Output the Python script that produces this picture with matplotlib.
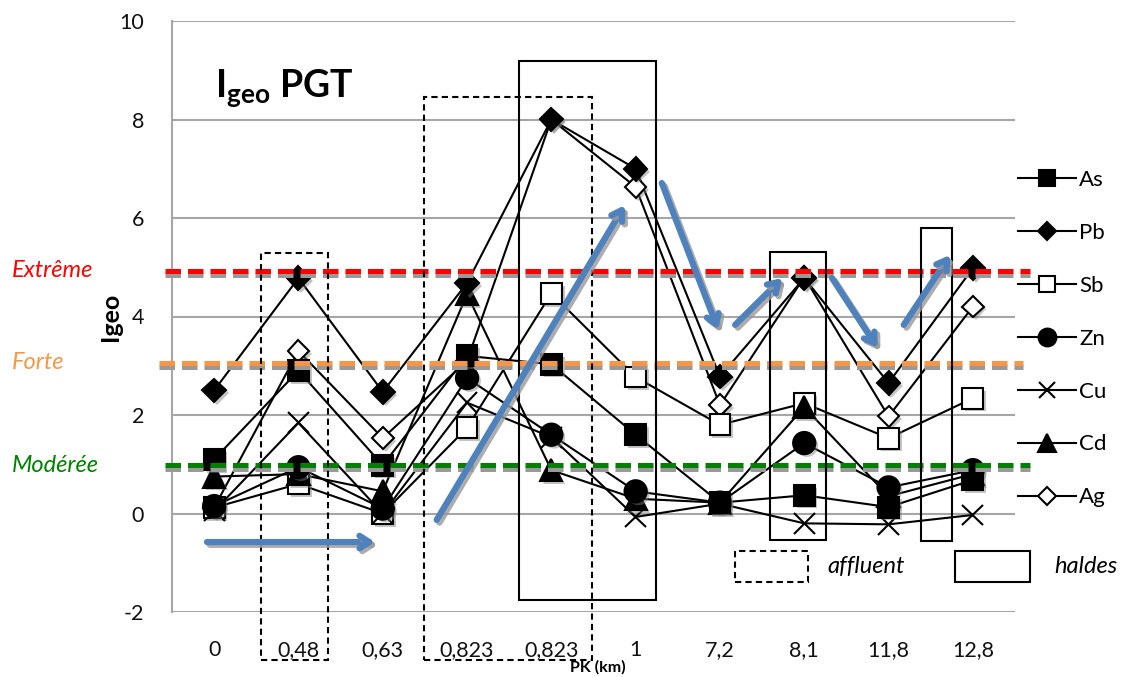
import matplotlib
matplotlib.use("Agg")
import matplotlib.pyplot as plt
import matplotlib.patheffects as pe
import matplotlib.transforms as mtransforms
from matplotlib.patches import Rectangle, FancyArrowPatch

plt.rcParams["font.family"] = ["Lato", "DejaVu Sans"]
plt.rcParams["mathtext.fontset"] = "custom"
plt.rcParams["mathtext.rm"] = "Lato"
plt.rcParams["mathtext.bf"] = "Lato:bold"
plt.rcParams["axes.unicode_minus"] = False

# PK (km) stations
categories = ["0", "0,48", "0,63", "0,823", "0,823", "1", "7,2", "8,1", "11,8", "12,8"]

# Igeo values per element
As = [1.1, 2.9, 0.98, 3.2, 3.03, 1.6, 0.22, 0.37, 0.13, 0.68]
Pb = [2.5, 4.78, 2.47, 4.68, 8.0, 7.0, 2.78, 4.78, 2.65, 4.98]
Sb = [0.12, 0.6, 0.0, 1.74, 4.47, 2.77, 1.8, 2.24, 1.53, 2.34]
Zn = [0.15, 0.94, 0.1, 2.75, 1.6, 0.45, 0.22, 1.43, 0.53, 0.88]
Cu = [0.05, 1.84, 0.0, 2.25, 1.55, -0.07, 0.2, -0.2, -0.22, -0.03]
Cd = [0.75, 0.8, 0.45, 4.45, 0.88, 0.3, 0.22, 2.16, 0.35, 0.8]
Ag = [0.12, 3.3, 1.53, 3.1, 8.0, 6.63, 2.2, 4.8, 1.97, 4.2]

# pollution class thresholds
threshold_labels = ["Extrême", "Forte", "Modérée"]
threshold_values = [4.93, 3.06, 0.98]
threshold_colors = ["#FF0000", "#F79646", "#008000"]

# name, values, marker, size, face colour, marker stacking order
series = [
    ("As", As, "s", 15, "black", 6),
    ("Pb", Pb, "D", 12, "black", 7),
    ("Sb", Sb, "s", 15, "white", 2),
    ("Zn", Zn, "o", 16, "black", 5),
    ("Cu", Cu, "x", 15, "black", 3),
    ("Cd", Cd, "^", 16, "black", 4),
    ("Ag", Ag, "D", 11, "white", 1),
]

fig = plt.figure(figsize=(11.4, 6.77), dpi=100)
ax = fig.add_axes([172 / 1140, 65 / 677, 843 / 1140, 591 / 677])

x = list(range(len(categories)))
shadow = [pe.SimplePatchShadow(offset=(2, -2), shadow_rgbFace="gray", alpha=0.45), pe.Normal()]
handles = []
for name, vals, mk, ms, fc, order in series:
    ax.plot(x, vals, color="black", lw=1.5, zorder=3)
    ax.plot(x, vals, ls="none", marker=mk, ms=ms, mfc=fc, mec="black",
            mew=1.5, zorder=4 + order * 0.1, path_effects=shadow)
    h, = ax.plot([], [], color="black", lw=1.5, marker=mk, ms=ms * 0.8,
                 mfc=fc, mec="black", mew=1.5, label=name)
    handles.append(h)

ax.set_xlim(-0.5, len(categories) - 0.5)
ax.set_ylim(-2, 10)
ax.set_yticks(range(-2, 11, 2))
ax.set_xticks(x)
ax.set_xticklabels(categories)
ax.tick_params(axis="both", length=0, labelsize=15.5, colors="#111111")
ax.tick_params(axis="y", pad=20)
ax.tick_params(axis="x", pad=20)
ax.grid(axis="y", color="#A6A6A6", lw=1.5)
ax.set_axisbelow(True)
for side in ["top", "right", "bottom"]:
    ax.spines[side].set_visible(False)
ax.spines["left"].set_color("#A6A6A6")
ax.spines["left"].set_linewidth(1.5)

ax.set_ylabel("Igeo", fontsize=18, fontweight="bold")
ax.yaxis.set_label_coords(-0.059, 0.5)

# threshold lines reaching beyond the plot area
trans = mtransforms.blended_transform_factory(ax.transAxes, ax.transData)
line_ext = [(-0.008, 1.018), (-0.015, 1.009), (-0.008, 1.018)]
for lab, val, col, (x0, x1) in zip(threshold_labels, threshold_values,
                                     threshold_colors, line_ext):
    ax.plot([x0, x1], [val, val], transform=trans, color=col, lw=3.6,
            dashes=(3.1, 1.4), clip_on=False, zorder=5,
            path_effects=[pe.SimpleLineShadow(offset=(0, -3), shadow_color="#999999", alpha=1),
                          pe.Normal()])
    ax.text(-0.19, val, lab, transform=trans, color=col, fontsize=17,
            style="italic", va="center", ha="left")

# affluent (dashed) and haldes (solid) boxes
boxes_affluent = [(0.556, -2.97, 0.794, 8.26), (2.49, -2.97, 1.99, 11.43)]
boxes_haldes = [(3.62, -1.76, 1.62, 10.95), (6.59, -0.54, 0.67, 5.85), (8.38, -0.56, 0.37, 6.36)]
for bx, by, bw, bh in boxes_affluent:
    ax.add_patch(Rectangle((bx, by), bw, bh, fill=False, ec="black", lw=1.5,
                           ls=(0, (3, 2)), clip_on=False, zorder=6))
for bx, by, bw, bh in boxes_haldes:
    ax.add_patch(Rectangle((bx, by), bw, bh, fill=False, ec="black", lw=1.5,
                           clip_on=False, zorder=6))

# key for the boxes
ax.add_patch(Rectangle((6.18, -1.39), 0.86, 0.63, fill=False, ec="black", lw=1.5,
                       ls=(0, (3, 2)), clip_on=False, zorder=6))
ax.add_patch(Rectangle((8.79, -1.39), 0.89, 0.63, fill=False, ec="black", lw=1.5,
                       clip_on=False, zorder=6))
ax.text(7.27, -1.08, "affluent", fontsize=17, style="italic", va="center")
ax.text(9.97, -1.08, "haldes", fontsize=17, style="italic", va="center")

# blue trend arrows
arrows = [((-0.085, -0.58), (1.908, -0.58)),
          ((2.64, -0.13), (4.87, 6.26)),
          ((5.31, 6.71), (5.98, 3.73)),
          ((6.18, 3.83), (6.74, 4.78)),
          ((7.33, 4.78), (7.87, 3.36)),
          ((8.18, 3.83), (8.73, 5.25))]
for start, end in arrows:
    arr = FancyArrowPatch(start, end, arrowstyle="->,head_length=7,head_width=4.5",
                          color="#4F81BD", lw=4.5, clip_on=False, zorder=7,
                          shrinkA=0, shrinkB=0,
                          path_effects=[pe.SimpleLineShadow(offset=(2, -2), shadow_color="#999999", alpha=0.8),
                                        pe.Normal()])
    ax.add_patch(arr)

fig.text(215 / 1140, 1 - 97 / 677, r"$\mathbf{I_{geo}}$ PGT", fontsize=27,
         fontweight="bold", va="baseline", ha="left")
fig.text(598 / 1140, 1 - 660 / 677, "PK (km)", fontsize=11.5, fontweight="bold",
         ha="center", va="top")

fig.legend(handles=handles, loc="upper left", bbox_to_anchor=(1018 / 1140, 1 - 170 / 677),
           frameon=False, fontsize=16, handlelength=2.6, handletextpad=0.15,
           labelspacing=1.48, borderpad=0, borderaxespad=0)

fig.savefig("out.png", dpi=100)
